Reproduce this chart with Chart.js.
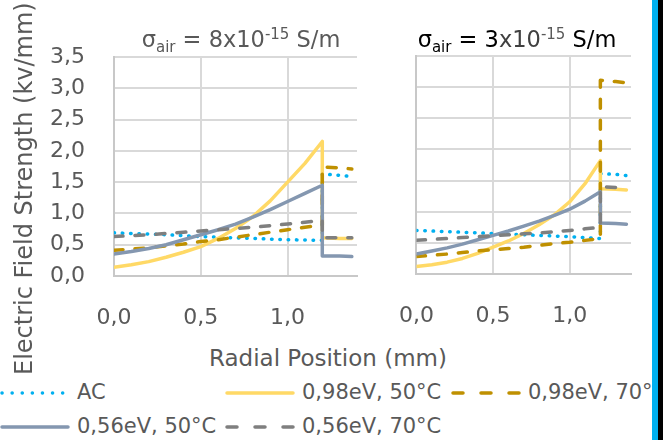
<!DOCTYPE html>
<html><head><meta charset="utf-8">
<script src="https://cdn.jsdelivr.net/npm/chart.js@4"></script>
<style>
html,body{margin:0;padding:0;background:#fff;width:663px;height:440px;overflow:hidden;position:relative;font-family:"DejaVu Sans",sans-serif;color:#595959}
.abs{position:absolute;white-space:nowrap}
canvas{position:absolute}
.ttl{font-size:22.5px;line-height:26px;text-align:center;width:300px}
.sub{font-size:15px;position:relative;top:5px}
.sup{font-size:15px;position:relative;top:-8px}
.lg{font-size:21px;line-height:26px}
</style></head><body>
<canvas id="c1" width="372" height="340" style="left:0;top:0"></canvas>
<canvas id="c2" width="280" height="340" style="left:370px;top:0"></canvas>

<div class="abs ttl" style="left:91px;top:26px;color:#595959">σ<span class="sub">air</span> = 8x10<span class="sup">-15</span> S/m</div>
<div class="abs ttl" style="left:367px;top:26px;color:#000">σ<span class="sub">air</span> = 3<span style="color:#404040">x10</span><span class="sup" style="color:#595959">-15</span> S/m</div>

<div class="abs" style="left:10px;top:375px;font-size:24px;line-height:28px;transform-origin:0 0;transform:rotate(-90deg)">Electric Field Strength (kv/mm)</div>
<div class="abs" style="left:209px;top:344px;font-size:23px;line-height:28px">Radial Position (mm)</div>

<div id="legend"></div>

<div class="abs" style="left:652px;top:0;width:6px;height:440px;background:#00B0F0;z-index:5"></div>
<div class="abs" style="left:658px;top:0;width:5px;height:440px;background:#000;z-index:5"></div>

<script>
// ---- data ----
const radialPosition = [0, 0.1, 0.2, 0.3, 0.4, 0.5, 0.6, 0.7, 0.8, 0.9, 1.0, 1.1, 1.2, 1.2, 1.3, 1.37];
const xTickLabels = ['0,0', '0,5', '1,0'];
const yTickLabels = ['0,0', '0,5', '1,0', '1,5', '2,0', '2,5', '3,0', '3,5'];
const seriesNames = ['AC', '0,98eV, 50°C', '0,98eV, 70°C', '0,56eV, 50°C', '0,56eV, 70°C'];
const panelTitles = ['σair = 8x10-15 S/m', 'σair = 3x10-15 S/m'];

// sigma_air = 8x10^-15 S/m
const acLeft      = [0.69, 0.68, 0.67, 0.66, 0.645, 0.63, 0.62, 0.61, 0.60, 0.59, 0.58, 0.575, 0.57, 1.63, 1.61, 1.59];
const ev098c50Left = [0.14, 0.18, 0.23, 0.30, 0.38, 0.47, 0.60, 0.76, 0.95, 1.20, 1.50, 1.80, 2.15, 0.61, 0.60, 0.60];
const ev098c70Left = [0.41, 0.43, 0.45, 0.48, 0.51, 0.55, 0.58, 0.62, 0.66, 0.70, 0.74, 0.78, 0.81, 1.74, 1.73, 1.71];
const ev056c50Left = [0.35, 0.39, 0.44, 0.50, 0.58, 0.66, 0.74, 0.83, 0.94, 1.06, 1.19, 1.32, 1.45, 0.32, 0.32, 0.31];
const ev056c70Left = [0.63, 0.645, 0.66, 0.68, 0.70, 0.72, 0.74, 0.76, 0.78, 0.805, 0.83, 0.86, 0.89, 0.61, 0.61, 0.61];

// sigma_air = 3x10^-15 S/m
const acRight      = [0.70, 0.69, 0.68, 0.67, 0.66, 0.65, 0.64, 0.63, 0.62, 0.61, 0.60, 0.585, 0.57, 1.61, 1.60, 1.58];
const ev098c50Right = [0.12, 0.15, 0.19, 0.25, 0.33, 0.43, 0.53, 0.65, 0.79, 0.95, 1.16, 1.45, 1.82, 1.37, 1.36, 1.35];
const ev098c70Right = [0.28, 0.30, 0.32, 0.345, 0.37, 0.39, 0.41, 0.43, 0.46, 0.49, 0.51, 0.54, 0.57, 3.11, 3.09, 3.07];
const ev056c50Right = [0.32, 0.37, 0.42, 0.48, 0.55, 0.62, 0.69, 0.77, 0.85, 0.94, 1.04, 1.17, 1.32, 0.82, 0.81, 0.80];
const ev056c70Right = [0.54, 0.555, 0.57, 0.585, 0.60, 0.615, 0.63, 0.645, 0.66, 0.68, 0.70, 0.725, 0.75, 1.40, 1.39, 1.38];

// ---- styles ----
const styles = [
  {color: '#00B0F0', width: 3.5, dash: [0.5, 7.8], order: 5},
  {color: '#FFD966', width: 3.5, dash: [], order: 4},
  {color: '#BF9000', width: 3.5, dash: [9, 12], order: 3},
  {color: '#8497B0', width: 3.5, dash: [], order: 2},
  {color: '#7F7F7F', width: 3.5, dash: [9, 12], order: 1}
];
const FONT = 'DejaVu Sans';
const TXT = '#595959';

function makeDatasets(seriesList) {
  return seriesList.map((vals, i) => ({
    label: seriesNames[i],
    data: radialPosition.map((x, j) => ({x: x, y: vals[j]})),
    showLine: true,
    borderColor: styles[i].color,
    backgroundColor: styles[i].color,
    borderWidth: styles[i].width,
    borderDash: styles[i].dash,
    borderCapStyle: 'round',
    borderJoinStyle: 'round',
    pointRadius: 0,
    pointHoverRadius: 0,
    tension: 0,
    order: styles[i].order
  }));
}

function makeChart(id, seriesList, opts) {
  return new Chart(document.getElementById(id), {
    type: 'scatter',
    data: {datasets: makeDatasets(seriesList)},
    options: {
      responsive: false,
      animation: false,
      events: [],
      layout: {padding: {left: 0, top: opts.top, right: opts.right, bottom: 0}},
      plugins: {legend: {display: false}, tooltip: {enabled: false}, title: {display: false}},
      scales: {
        x: {
          type: 'linear', min: 0, max: 1.4,
          ticks: {stepSize: 0.5, includeBounds: false, autoSkip: false, maxRotation: 0,
                  callback: (v, i) => xTickLabels[i], color: TXT, font: {family: FONT, size: 22}, padding: 29},
          grid: {color: '#D9D9D9', lineWidth: 2, drawTicks: false},
          border: {color: '#C8C8C8', width: 2},
          afterFit: s => { s.height = opts.xh; }
        },
        y: {
          min: 0, max: 3.5,
          ticks: {stepSize: 0.5, display: opts.yTicks, callback: (v, i) => yTickLabels[i],
                  color: TXT, font: {family: FONT, size: 22}, padding: 29},
          grid: {color: '#D9D9D9', lineWidth: 2, drawTicks: false},
          border: {color: '#C8C8C8', width: 2},
          afterFit: s => { s.width = opts.yw; }
        }
      }
    }
  });
}

makeChart('c1', [acLeft, ev098c50Left, ev098c70Left, ev056c50Left, ev056c70Left],
  {top: 57, right: 372 - 357, xh: 340 - 276, yw: 114, yTicks: true});
makeChart('c2', [acRight, ev098c50Right, ev098c70Right, ev056c50Right, ev056c70Right],
  {top: 56, right: 280 - 261, xh: 340 - 274, yw: 29, yTicks: false});

// ---- legend (HTML) ----
const legendPos = [
  {lx: 2, tx: 77, y: 393},
  {lx: 227, tx: 302, y: 393},
  {lx: 453, tx: 528, y: 393},
  {lx: 2, tx: 77, y: 427},
  {lx: 227, tx: 302, y: 427}
];
const legendDash = ['0.1 10', '', '10 18', '', '10 18'];
const lg = document.getElementById('legend');
seriesNames.forEach((name, i) => {
  const p = legendPos[i];
  const s = styles[i];
  const svgNS = 'http://www.w3.org/2000/svg';
  const svg = document.createElementNS(svgNS, 'svg');
  svg.setAttribute('width', 72); svg.setAttribute('height', 10);
  svg.style.position = 'absolute'; svg.style.left = (p.lx - 2) + 'px'; svg.style.top = (p.y - 5) + 'px';
  const ln = document.createElementNS(svgNS, 'line');
  ln.setAttribute('x1', 2); ln.setAttribute('x2', 68); ln.setAttribute('y1', 5); ln.setAttribute('y2', 5);
  ln.setAttribute('stroke', s.color); ln.setAttribute('stroke-width', 3.5);
  ln.setAttribute('stroke-linecap', 'round');
  if (legendDash[i]) ln.setAttribute('stroke-dasharray', legendDash[i]);
  svg.appendChild(ln);
  lg.appendChild(svg);
  const t = document.createElement('div');
  t.className = 'abs lg';
  t.style.left = p.tx + 'px'; t.style.top = (p.y - 14) + 'px';
  t.textContent = name;
  lg.appendChild(t);
});
</script>
</body></html>
